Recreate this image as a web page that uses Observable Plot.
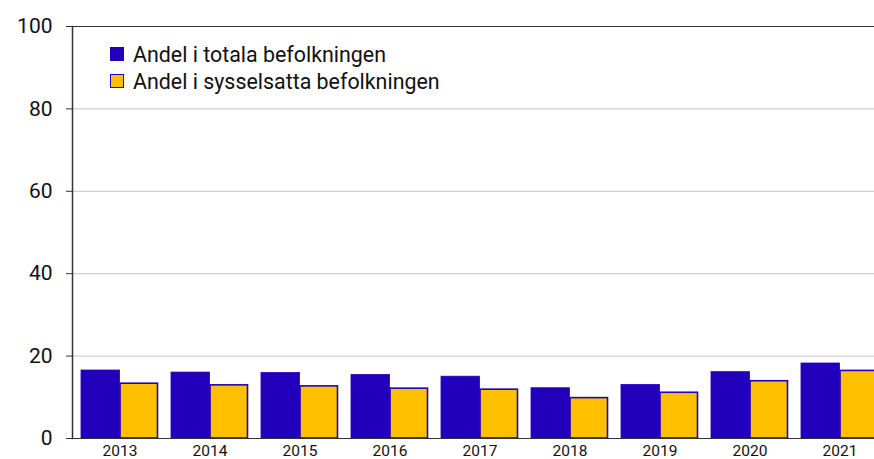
<!DOCTYPE html>
<html><head><meta charset="utf-8">
<script src="https://cdn.jsdelivr.net/npm/d3@7"></script>
<script src="https://cdn.jsdelivr.net/npm/@observablehq/plot@0.6"></script>
<style>
html,body{margin:0;padding:0;background:#fff;overflow:hidden}
#wrap{position:relative;width:874px;height:459px;font-family:Roboto,sans-serif}
.legend{position:absolute;left:110px;top:41px;font-size:21.4px;color:#111}
.row{display:flex;align-items:center;height:26.7px}
.sw{width:14px;height:14px;box-sizing:border-box;margin-right:9px;flex:none}
</style></head><body><div id="wrap"></div>
<script>
const years = ["2013","2014","2015","2016","2017","2018","2019","2020","2021"];
const total = [16.5, 16.0, 15.9, 15.4, 15.0, 12.2, 13.0, 16.1, 18.2];
const employed = [13.3, 12.9, 12.65, 12.1, 11.85, 9.8, 11.1, 13.9, 16.4];
const seriesNames = ["Andel i totala befolkningen", "Andel i sysselsatta befolkningen"];
const yTicks = [0, 20, 40, 60, 80, 100];

const blue = "#2200bb", yellow = "#ffc000";
const rows = years.map((y, i) => ({year: y, total: total[i], employed: employed[i]}));

const W = 874, H = 459, mL = 72, mR = -12, mT = 26, mB = 21;
const pIn = 0.145, pOut = 0.089;
const bw = d3.scaleBand().domain(years).range([mL, W - mR]).paddingInner(pIn).paddingOuter(pOut).bandwidth();

const chart = Plot.plot({
  width: W, height: H,
  marginLeft: mL, marginRight: mR, marginTop: mT, marginBottom: mB,
  style: {fontFamily: "Roboto, sans-serif", overflow: "hidden", background: "#fff", color: "#222"},
  x: {type: "band", domain: years, paddingInner: pIn, paddingOuter: pOut, axis: null},
  y: {domain: [0, 100], axis: null},
  marks: [
    Plot.ruleY(yTicks.slice(1, -1), {stroke: "#c4c4c4", strokeWidth: 1}),
    Plot.barY(rows, {x: "year", y: "total", fill: blue, stroke: blue, strokeWidth: 0.8, insetRight: bw / 2}),
    Plot.barY(rows, {x: "year", y: "employed", fill: yellow, stroke: blue, strokeWidth: 1.6, insetLeft: bw / 2 + 0.5, insetRight: 0.5}),
    Plot.ruleY([0, 100], {stroke: "#333", strokeWidth: 1.2}),
    Plot.frame({anchor: "left", stroke: "#333", strokeWidth: 1.5}),
    Plot.axisY({ticks: yTicks, tickSize: 6, tickPadding: 14, fontSize: 21, label: null, stroke: "#333", fill: "#111"}),
    Plot.axisX({tickSize: 0, tickPadding: 6.5, fontSize: 15.5, label: null, fill: "#111"})
  ]
});
const wrap = document.getElementById("wrap");
wrap.appendChild(chart);
const legend = document.createElement("div");
legend.className = "legend";
legend.innerHTML = `
  <div class="row"><div class="sw" style="background:${blue}"></div><span>${seriesNames[0]}</span></div>
  <div class="row"><div class="sw" style="background:${yellow};border:1.5px solid ${blue}"></div><span>${seriesNames[1]}</span></div>`;
wrap.appendChild(legend);
</script>
</body></html>
